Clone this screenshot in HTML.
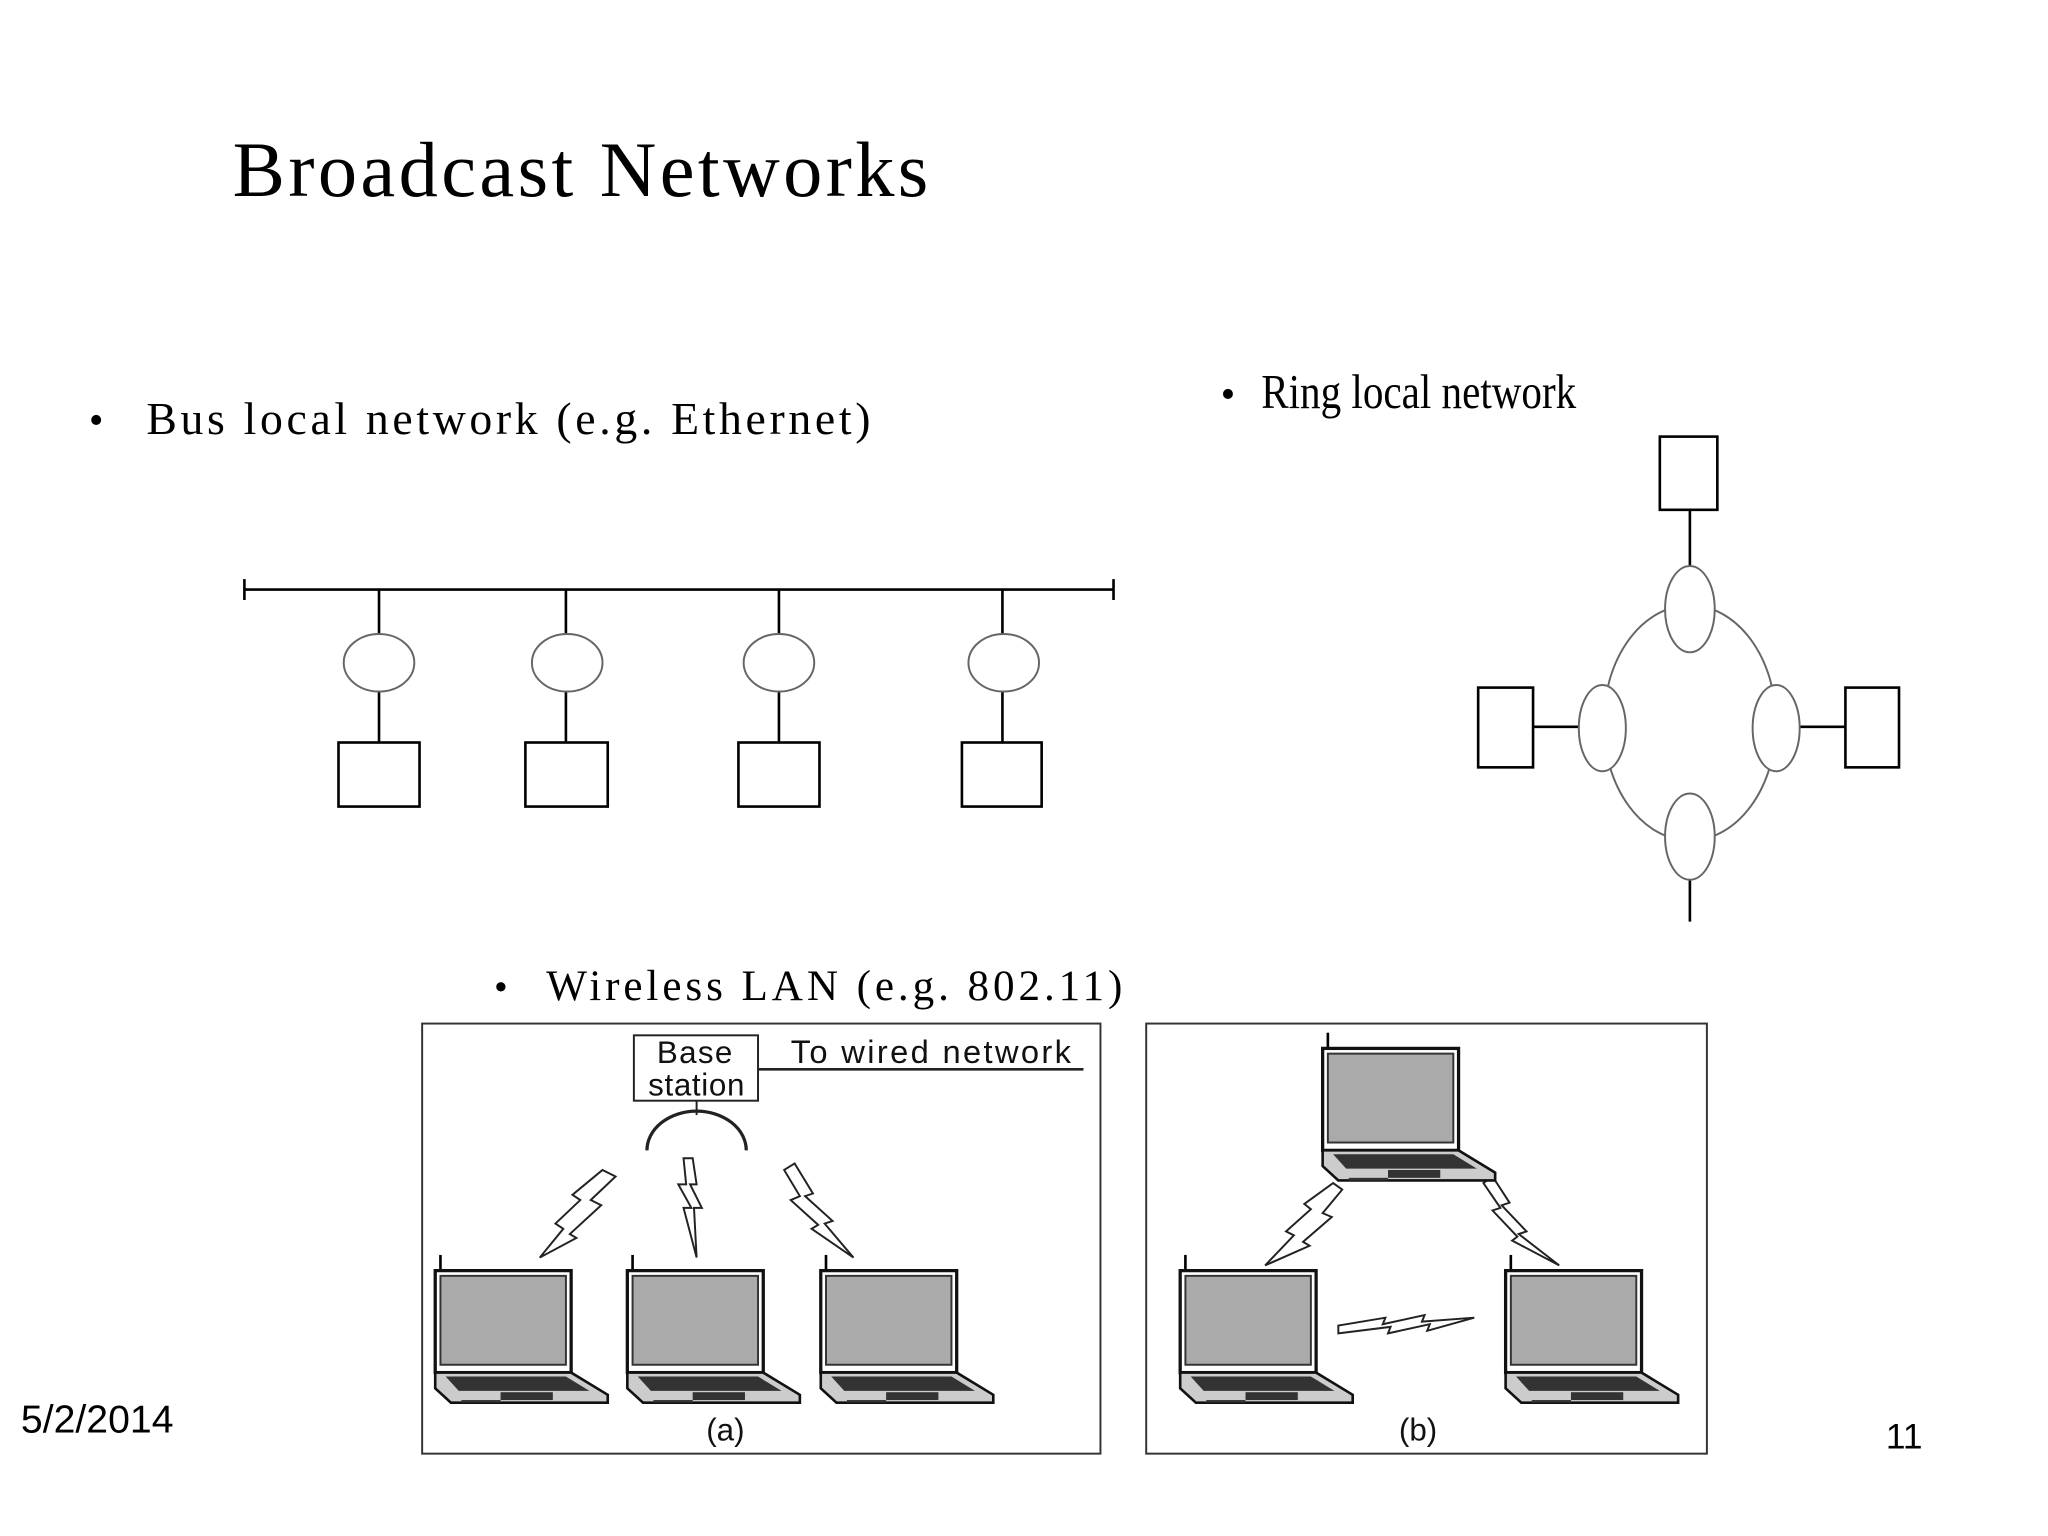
<!DOCTYPE html>
<html><head><meta charset="utf-8"><style>
html,body{margin:0;padding:0;background:#fff}
svg{display:block}
</style></head><body>
<svg width="2048" height="1536" viewBox="0 0 1567 1175" preserveAspectRatio="none" xmlns="http://www.w3.org/2000/svg">
<defs>
<g id="lap">
  <line x1="4" y1="-12" x2="4" y2="2" stroke="#000" stroke-width="2"/>
  <rect x="0" y="0" width="104" height="78" fill="#fff" stroke="#111" stroke-width="2.5"/>
  <rect x="4" y="4" width="96" height="68" fill="#aaa" stroke="#333" stroke-width="1.5"/>
  <polygon points="0,78 104,78 132,95 132,101 12,101 0,90" fill="#ccc" stroke="#111" stroke-width="2"/>
  <polygon points="8,81 100,81 118,92 18,92" fill="#333"/>
  <rect x="50" y="93" width="40" height="6" fill="#333"/>
  <rect x="20" y="99" width="30" height="2" fill="#333"/>
</g>
</defs>
<g font-family="Liberation Serif, serif" fill="#000">
<text x="178" y="150" font-size="60" letter-spacing="2.6">Broadcast Networks</text>
<text x="68" y="332" font-size="32">•</text>
<text x="112" y="332" font-size="35" letter-spacing="2.8">Bus local network (e.g. Ethernet)</text>
<text x="934" y="312" font-size="32">•</text>
<text x="965" y="312" font-size="37" transform="translate(965 312) scale(0.85 1) translate(-965 -312)">Ring local network</text>
<text x="378" y="765" font-size="30">•</text>
<text x="418" y="765" font-size="33" letter-spacing="3">Wireless LAN (e.g. 802.11)</text>
</g>
<g font-family="Liberation Sans, sans-serif" font-size="30" fill="#000">
<text x="16" y="1096">5/2/2014</text>
<text x="1443" y="1108" font-size="27">11</text>
</g>
<!-- bus -->
<g stroke="#000" stroke-width="2" fill="#fff">
<line x1="187" y1="451" x2="852" y2="451"/>
<line x1="187" y1="443" x2="187" y2="459"/>
<line x1="852" y1="443" x2="852" y2="459"/>
<line x1="290" y1="451" x2="290" y2="568"/>
<line x1="433" y1="451" x2="433" y2="568"/>
<line x1="596" y1="451" x2="596" y2="568"/>
<line x1="767" y1="451" x2="767" y2="568"/>
<g stroke="#666" stroke-width="1.5">
<ellipse cx="290" cy="507" rx="27" ry="22"/>
<ellipse cx="434" cy="507" rx="27" ry="22"/>
<ellipse cx="596" cy="507" rx="27" ry="22"/>
<ellipse cx="768" cy="507" rx="27" ry="22"/>
</g>
<rect x="259" y="568" width="62" height="49"/>
<rect x="402" y="568" width="63" height="49"/>
<rect x="565" y="568" width="62" height="49"/>
<rect x="736" y="568" width="61" height="49"/>
</g>
<!-- ring -->
<g stroke="#000" stroke-width="2" fill="#fff">
<ellipse cx="1293" cy="553" rx="66" ry="90" stroke="#666" stroke-width="1.5"/>
<line x1="1293" y1="390" x2="1293" y2="440"/>
<line x1="1293" y1="660" x2="1293" y2="705"/>
<line x1="1173" y1="556" x2="1210" y2="556"/>
<line x1="1375" y1="556" x2="1412" y2="556"/>
<g stroke="#666" stroke-width="1.5">
<ellipse cx="1293" cy="466" rx="19" ry="33"/>
<ellipse cx="1226" cy="557" rx="18" ry="33"/>
<ellipse cx="1359" cy="557" rx="18" ry="33"/>
<ellipse cx="1293" cy="640" rx="19" ry="33"/>
</g>
<rect x="1270" y="334" width="44" height="56"/>
<rect x="1131" y="526" width="42" height="61"/>
<rect x="1412" y="526" width="41" height="61"/>
</g>
<!-- wireless boxes -->
<rect x="323" y="783" width="519" height="329" fill="none" stroke="#333" stroke-width="1.5"/>
<rect x="877" y="783" width="429" height="329" fill="none" stroke="#333" stroke-width="1.5"/>
<rect x="485" y="792" width="95" height="50" fill="#fff" stroke="#222" stroke-width="1.5"/>
<g font-family="Liberation Sans, sans-serif" font-size="24" fill="#111">
<text x="532" y="813" text-anchor="middle" letter-spacing="1">Base</text>
<text x="533" y="838" text-anchor="middle" letter-spacing="0.5">station</text>
<text x="605" y="813" font-size="25" letter-spacing="1.8">To wired network</text>
<text x="555" y="1102" text-anchor="middle">(a)</text>
<text x="1085" y="1102" text-anchor="middle">(b)</text>
</g>
<line x1="580" y1="818" x2="829" y2="818" stroke="#222" stroke-width="2"/>
<line x1="533" y1="842" x2="533" y2="853" stroke="#222" stroke-width="1.5"/>
<path d="M495 880 A38 30 0 0 1 571 880" fill="none" stroke="#222" stroke-width="2.5"/>
<!-- bolts -->
<g fill="#fff" stroke="#222" stroke-width="1.5">
<polygon points="461,895 471,900 452,918 460,922 436,944 441,947 413,962 431,940 425,936 444,918 438,914"/>
<polygon points="523,886 530,886 533,906 528,906 537,924 531,924 533,962 523,924 529,924 519,906 525,906"/>
<polygon points="600,895 608,890 622,913 616,915 637,934 631,936 653,962 621,940 626,937 605,918 612,915"/>
<polygon points="1020,905 1027,910 1012,928 1019,931 997,950 1002,953 968,968 990,945 984,942 1003,925 998,921"/>
<polygon points="1135,905 1142,900 1155,920 1149,922 1168,942 1162,944 1193,968 1157,949 1161,946 1142,926 1148,924"/>
<polygon points="1024,1014 1060,1008 1058,1013 1090,1006 1088,1011 1128,1008 1092,1018 1094,1013 1062,1020 1064,1015 1024,1020"/>
</g>
<!-- laptops -->
<use href="#lap" x="333" y="972"/>
<use href="#lap" x="480" y="972"/>
<use href="#lap" x="628" y="972"/>
<use href="#lap" x="1012" y="802"/>
<use href="#lap" x="903" y="972"/>
<use href="#lap" x="1152" y="972"/>
</svg>
</body></html>
